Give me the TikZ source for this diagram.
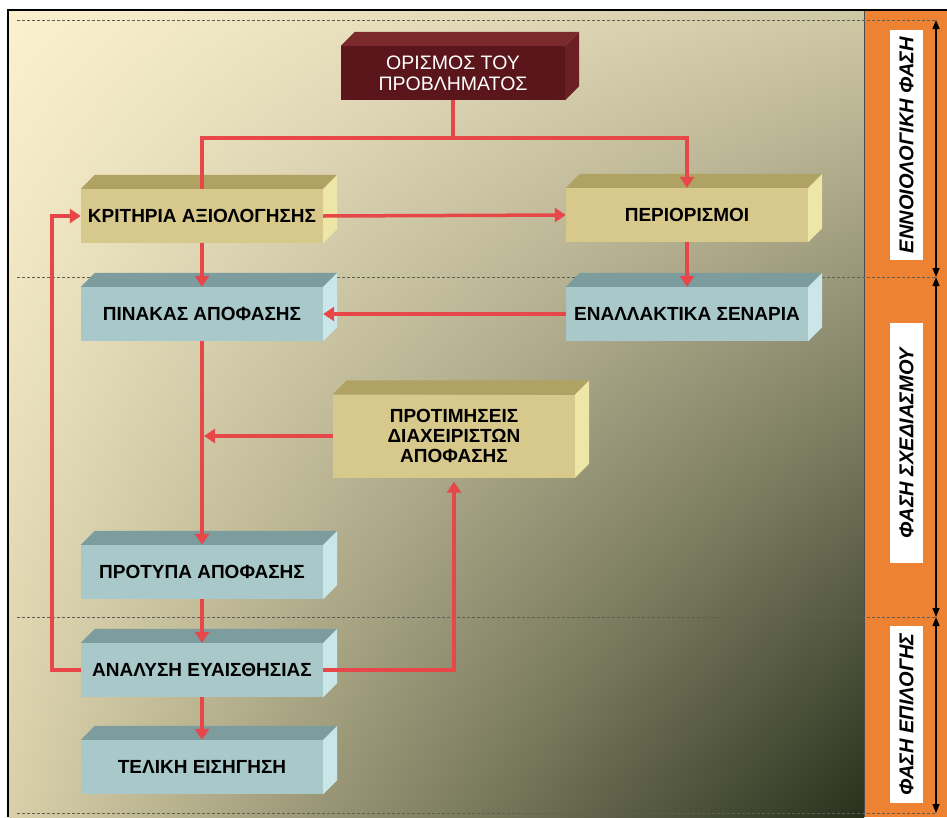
\documentclass[tikz,border=0pt]{standalone}
\usepackage{fontspec}
\setmainfont{Liberation Sans}
\usepackage{tikz}
\usepackage{xcolor}
\usetikzlibrary{calc,arrows.meta,shadings,positioning}

\definecolor{bgul}{HTML}{FBF1CF}
\definecolor{bgur}{HTML}{CFC8A5}
\definecolor{bgll}{HTML}{D9D0A9}
\definecolor{bglr}{HTML}{28301C}
\definecolor{tanfront}{HTML}{D7C88B}
\definecolor{tantop}{HTML}{B0A262}
\definecolor{tanside}{HTML}{EEE6A6}
\definecolor{bluefront}{HTML}{A8C8C9}
\definecolor{bluetop}{HTML}{7D9C9E}
\definecolor{blueside}{HTML}{CBE6E8}
\definecolor{redfront}{HTML}{5A161B}
\definecolor{redtop}{HTML}{7B2A2C}
\definecolor{redside}{HTML}{6A2024}
\definecolor{arrowred}{HTML}{E8474A}
\definecolor{phaseorange}{HTML}{EE8233}
\definecolor{dashgrey}{HTML}{5E5E52}

\newcommand{\boxsides}[3]{%
  \fill[#2] (#1.north west) -- ++(14,-14) -- ([shift={(14,-14)}]#1.north east) -- (#1.north east) -- cycle;
  \fill[#3] (#1.north east) -- ++(14,-14) -- ([shift={(14,-14)}]#1.south east) -- (#1.south east) -- cycle;}

\tikzset{
  front/.style={minimum width=242pt, minimum height=54pt, inner sep=0pt, align=center,
    font=\bfseries\fontsize{19}{20}\selectfont},
  tanbox/.style={front, fill=tanfront},
  bluebox/.style={front, fill=bluefront},
  redbox/.style={front, fill=redfront, text=white, minimum width=224pt,
    font=\fontsize{19.5}{21}\selectfont},
  link/.style={draw=arrowred, line width=3.5pt},
  linkarrow/.style={link, -{Triangle[width=14pt,length=11pt]}},
  phase/.style={line width=1.4pt, {Triangle[width=7pt,length=9pt]}-{Triangle[width=7pt,length=9pt]}},
  phaselabel/.style={fill=white, rotate=90, minimum height=33pt, inner sep=0pt,
    font=\bfseries\itshape\fontsize{20}{22}\selectfont},
  divider/.style={dashgrey, line width=0.9pt, dash pattern=on 3pt off 2pt}
}

\begin{document}
\begin{tikzpicture}[x=1pt, y=-1pt]
\useasboundingbox (0,0) rectangle (947,817);
\fill[white] (0,0) rectangle (947,817);
\shade[upper left=bgul, upper right=bgur, lower left=bgll, lower right=bglr] (9,11) rectangle (864,817);
\fill[phaseorange] (864,11) rectangle (947,817);
\draw[line width=0.8pt, black!70] (864,11) -- (864,817);
\draw[line width=2pt] (8,817) -- (8,10) -- (947,10);

\foreach \y in {20,277,617,813}
  \draw[divider] (17,\y) -- (936,\y);

\node[redbox] (def) at (453,73) {ΟΡΙΣΜΟΣ ΤΟΥ\\ΠΡΟΒΛΗΜΑΤΟΣ};
\node[tanbox] (krit) at (202,216) {ΚΡΙΤΗΡΙΑ ΑΞΙΟΛΟΓΗΣΗΣ};
\node[tanbox] (peri) at (687,215) {ΠΕΡΙΟΡΙΣΜΟΙ};
\node[bluebox] (pin) at (202,314) {ΠΙΝΑΚΑΣ ΑΠΟΦΑΣΗΣ};
\node[bluebox] (ena) at (687,314) {ΕΝΑΛΛΑΚΤΙΚΑ ΣΕΝΑΡΙΑ};
\node[tanbox, minimum height=83pt] (pref) at (454,436) {ΠΡΟΤΙΜΗΣΕΙΣ\\ΔΙΑΧΕΙΡΙΣΤΩΝ\\ΑΠΟΦΑΣΗΣ};
\node[bluebox] (model) at (202,572) {ΠΡΟΤΥΠΑ ΑΠΟΦΑΣΗΣ};
\node[bluebox] (sens) at (202,670) {ΑΝΑΛΥΣΗ ΕΥΑΙΣΘΗΣΙΑΣ};
\node[bluebox] (final) at (202,767) {ΤΕΛΙΚΗ ΕΙΣΗΓΗΣΗ};

\boxsides{def}{redtop}{redside}
\boxsides{krit}{tantop}{tanside}
\boxsides{peri}{tantop}{tanside}
\boxsides{pref}{tantop}{tanside}
\boxsides{pin}{bluetop}{blueside}
\boxsides{ena}{bluetop}{blueside}
\boxsides{model}{bluetop}{blueside}
\boxsides{sens}{bluetop}{blueside}
\boxsides{final}{bluetop}{blueside}

\coordinate (split) at (453,138);
\draw[link] (def.south) -- (split);
\draw[link] (split) -| (krit.north);
\draw[linkarrow] (split) -| (peri.north);
\draw[linkarrow] (krit.east) -- (peri.west);
\draw[linkarrow] (krit.south) -- (pin.north);
\draw[linkarrow] (peri.south) -- (ena.north);
\draw[linkarrow] (ena.west) -- (pin.east);
\draw[linkarrow] (pin.south) -- (model.north);
\draw[linkarrow, shorten >=2pt] (pref.west) -- (pref.west -| pin.south);
\draw[linkarrow] (model.south) -- (sens.north);
\draw[linkarrow, shorten >=4pt] (sens.east) -| (pref.south);
\draw[linkarrow] (sens.west) -- ++(-29,0) |- (krit.west);
\draw[linkarrow] (sens.south) -- (final.north);

\coordinate (p0) at (936,20);
\coordinate (p1) at (936,277);
\coordinate (p2) at (936,617);
\coordinate (p3) at (936,813);
\draw[phase] (p0) -- (p1);
\draw[phase] (p1) -- (p2);
\draw[phase] (p2) -- (p3);
\node[phaselabel, minimum width=230pt] (concept) at (906.5,145) {ΕΝΝΟΙΟΛΟΓΙΚΗ ΦΑΣΗ};
\node[phaselabel, minimum width=240pt] (design) at (906.5,443) {ΦΑΣΗ ΣΧΕΔΙΑΣΜΟΥ};
\node[phaselabel, minimum width=177pt] (choice) at (906.5,714.5) {ΦΑΣΗ ΕΠΙΛΟΓΗΣ};
\end{tikzpicture}
\end{document}
